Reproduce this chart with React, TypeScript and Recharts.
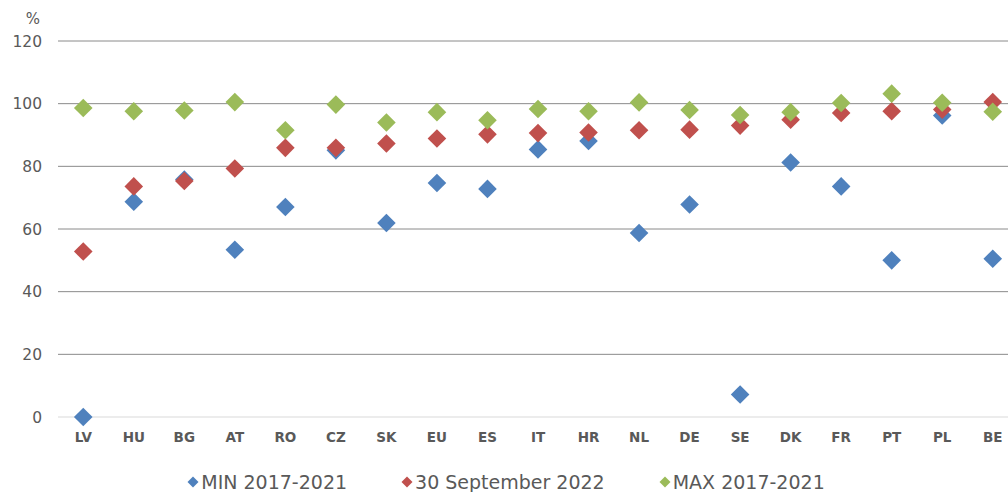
import React from 'react';
import { ComposedChart, Scatter, XAxis, YAxis, CartesianGrid, Legend } from 'recharts';

const countries = ['LV', 'HU', 'BG', 'AT', 'RO', 'CZ', 'SK', 'EU', 'ES', 'IT', 'HR', 'NL', 'DE', 'SE', 'DK', 'FR', 'PT', 'PL', 'BE'];
const minValues = [0, 68.7, 75.8, 53.4, 67.0, 85.1, 61.9, 74.7, 72.8, 85.4, 88.1, 58.7, 67.8, 7.2, 81.2, 73.6, 50.0, 96.2, 50.5];
const sepValues = [52.8, 73.6, 75.3, 79.3, 85.9, 85.9, 87.3, 88.9, 90.2, 90.6, 90.8, 91.5, 91.7, 93.0, 94.9, 97.0, 97.6, 98.1, 100.5];
const maxValues = [98.6, 97.6, 97.8, 100.5, 91.5, 99.7, 94.0, 97.3, 94.7, 98.3, 97.6, 100.4, 98.0, 96.4, 97.3, 100.2, 103.2, 100.3, 97.4];
const yTicks = [0, 20, 40, 60, 80, 100, 120];
const gridValues = [20, 40, 60, 80, 100, 120];

const seriesNames = { min: 'MIN 2017-2021', sep: '30 September 2022', max: 'MAX 2017-2021' };
const colors = { min: '#4F81BD', sep: '#C0504D', max: '#9BBB59' };

const data = countries.map((c, i) => ({ country: c, min: minValues[i], sep: sepValues[i], max: maxValues[i] }));

const FONT = '"DejaVu Sans", Verdana, sans-serif';

const Diamond = (props: any) => {
  const { cx, cy, fill } = props;
  if (cx == null || cy == null) return null;
  const r = 9.3;
  return <path d={`M${cx},${cy - r}L${cx + r},${cy}L${cx},${cy + r}L${cx - r},${cy}Z`} fill={fill} />;
};

const legendItems = [
  { key: 'min', label: seriesNames.min, color: colors.min },
  { key: 'sep', label: seriesNames.sep, color: colors.sep },
  { key: 'max', label: seriesNames.max, color: colors.max },
];

const renderLegend = () => (
  <div style={{ display: 'flex', justifyContent: 'center', gap: 54, fontFamily: FONT, fontSize: 19, color: '#595959', whiteSpace: 'nowrap', paddingLeft: 4 }}>
    {legendItems.map((it) => (
      <div key={it.key} style={{ display: 'flex', alignItems: 'center' }}>
        <svg width={12} height={12} style={{ marginRight: 2 }}>
          <path d="M6,0.5L11.5,6L6,11.5L0.5,6Z" fill={it.color} />
        </svg>
        <span>{it.label}</span>
      </div>
    ))}
  </div>
);

export default function App() {
  return (
    <div style={{ position: 'absolute', left: 0, top: 0, width: 1008, height: 492, overflow: 'hidden', background: '#fff' }}>
      <ComposedChart width={1018} height={492} data={data} margin={{ top: 41, right: 0, left: 8, bottom: 45 }}>
        <CartesianGrid vertical={false} horizontalValues={gridValues} stroke="#8a8a8a" />
        <XAxis
          dataKey="country"
          type="category"
          interval={0}
          tickLine={false}
          axisLine={{ stroke: '#d9d9d9' }}
          height={30}
          tickMargin={9}
          padding={{ left: 25.25, right: 25.25 }}
          tick={{ fill: '#595959', fontSize: 13.5, fontWeight: 'bold', fontFamily: FONT }}
        />
        <YAxis
          type="number"
          domain={[0, 120]}
          ticks={yTicks}
          width={50}
          axisLine={false}
          tickLine={false}
          tickMargin={10}
          tick={{ fill: '#595959', fontSize: 15.5, fontFamily: FONT }}
          label={{ value: '%', position: 'top', offset: 17, fill: '#595959', fontSize: 15, fontFamily: FONT }}
        />
        <Legend verticalAlign="middle" align="center" content={renderLegend} wrapperStyle={{ left: 0, top: 471, width: 1008 }} />
        <Scatter name={seriesNames.min} dataKey="min" fill={colors.min} shape={Diamond} isAnimationActive={false} />
        <Scatter name={seriesNames.sep} dataKey="sep" fill={colors.sep} shape={Diamond} isAnimationActive={false} />
        <Scatter name={seriesNames.max} dataKey="max" fill={colors.max} shape={Diamond} isAnimationActive={false} />
      </ComposedChart>
    </div>
  );
}
